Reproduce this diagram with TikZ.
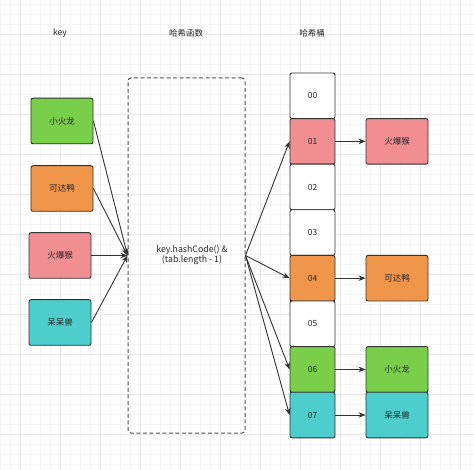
\documentclass[tikz,border=0pt]{standalone}
\usepackage{fontspec}
\setmainfont{Noto Sans CJK SC}
\usetikzlibrary{arrows.meta}
\definecolor{cgreen}{RGB}{122,207,74}
\definecolor{corange}{RGB}{240,150,75}
\definecolor{cpink}{RGB}{240,142,145}
\definecolor{ccyan}{RGB}{78,205,205}
\definecolor{cline}{RGB}{51,51,51}
\definecolor{gminor}{RGB}{245,245,245}
\definecolor{gmajor}{RGB}{232,232,232}
\begin{document}
\begin{tikzpicture}[x=1pt,y=-1pt,
  box/.style={draw=cline, line width=0.9pt, rounded corners=2pt, minimum width=62pt, minimum height=45.6pt, inner sep=0pt, font=\fontsize{8.5}{10}\selectfont, text=black!85},
  bucket/.style={box, minimum width=45pt},
  hashbox/.style={draw=cline!85, line width=1pt, dash pattern=on 4pt off 2.5pt, rounded corners=3pt, minimum width=117pt, minimum height=355pt, inner sep=0pt},
  lbl/.style={font=\fontsize{8.5}{10}\selectfont, text=black!85},
  arr/.style={draw=cline, line width=0.9pt, -{Stealth[length=7pt,width=5.5pt]}}
]
\useasboundingbox (0,0) rectangle (474,470);
\fill[white] (0,0) rectangle (474,470);
% grid
\foreach \x in {0,10,...,470} \draw[gminor, line width=0.5pt] (\x,0) -- (\x,470);
\foreach \y in {4,14,...,464} \draw[gminor, line width=0.5pt] (0,\y) -- (474,\y);
\foreach \x in {20,60,...,460} \draw[gmajor, line width=0.6pt] (\x,0) -- (\x,470);
\foreach \y in {34,74,...,464} \draw[gmajor, line width=0.6pt] (0,\y) -- (474,\y);

% headers
\node[lbl] (t1) at (60,33) {key};
\node[lbl] (t2) at (186,33) {哈希函数};
\node[lbl] (t3) at (312,33) {哈希桶};

% keys
\node[box, fill=cgreen] (k1) at (62,121) {小火龙};
\node[box, fill=corange] (k2) at (62,188.5) {可达鸭};
\node[box, fill=cpink] (k3) at (60,255.5) {火爆猴};
\node[box, fill=ccyan] (k4) at (60,322.5) {呆呆兽};

% hash function
\node[hashbox] (h) at (186.5,255.5) {};
\node[lbl, align=center, font=\fontsize{8.8}{10.5}\selectfont] (hl) at (192,255) {key.hashCode() \&\\(tab.length - 1)};

% buckets
\node[bucket, fill=white] (b0) at (312.5,95.8) {00};
\node[bucket, fill=cpink] (b1) at (312.5,141.4) {01};
\node[bucket, fill=white] (b2) at (312.5,187) {02};
\node[bucket, fill=white] (b3) at (312.5,232.6) {03};
\node[bucket, fill=corange] (b4) at (312.5,278.2) {04};
\node[bucket, fill=white] (b5) at (312.5,323.8) {05};
\node[bucket, fill=cgreen] (b6) at (312.5,369.4) {06};
\node[bucket, fill=ccyan] (b7) at (312.5,415) {07};

% values
\node[box, fill=cpink] (r1) at (397,141.4) {火爆猴};
\node[box, fill=corange] (r4) at (397,278.2) {可达鸭};
\node[box, fill=cgreen] (r6) at (397,369.4) {小火龙};
\node[box, fill=ccyan] (r7) at (397,415) {呆呆兽};

% arrows keys -> hash
\draw[arr] (k1.east) -- (h.west);
\draw[arr] (k2.east) -- (h.west);
\draw[arr] (k3.east) -- (h.west);
\draw[arr] (k4.east) -- (h.west);

% arrows hash -> buckets
\draw[arr] (h.east) -- (b1.west);
\draw[arr] (h.east) -- (b4.west);
\draw[arr] (h.east) -- (b6.west);
\draw[arr] (h.east) -- (b7.west);

% buckets -> values
\draw[arr] (b1.east) -- (r1.west);
\draw[arr] (b4.east) -- (r4.west);
\draw[arr] (b6.east) -- (r6.west);
\draw[arr] (b7.east) -- (r7.west);
\end{tikzpicture}
\end{document}
